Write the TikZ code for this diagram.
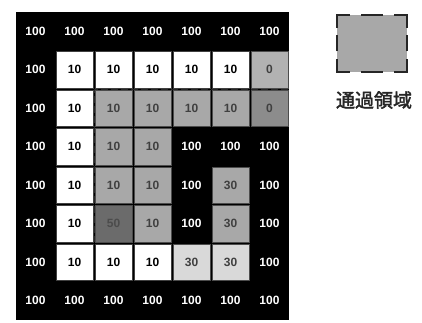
\documentclass[tikz,border=0pt]{standalone}
\usepackage{fontspec}
\setmainfont{Liberation Sans}
\newfontfamily\cjk[AutoFakeBold=2]{Noto Sans CJK JP}
\begin{document}
\begin{tikzpicture}[x=1pt,y=1pt,
  cellbase/.style={minimum width=37pt,minimum height=36.5pt,inner sep=0pt,font=\fontsize{12}{12}\selectfont\bfseries},
  blk/.style={cellbase,text=white},
  wht/.style={cellbase,fill=white,draw=black!75,line width=0.6pt,text=black},
  gry/.style={cellbase,fill=black!34,draw=black!70,line width=0.6pt,text=black!75},
  gryL/.style={cellbase,fill=black!30,draw=black!70,line width=0.6pt,text=black!75},
  gryD/.style={cellbase,fill=black!45,draw=black!70,line width=0.6pt,text=black!75},
  drk/.style={cellbase,fill=black!58,draw=black!70,line width=0.6pt,text=black!70},
  lgt/.style={cellbase,fill=black!15,draw=black!70,line width=0.6pt,text=black!75},
  region/.style={draw=black!85,line width=1.3pt,dash pattern=on 7pt off 3pt},
  legendline/.style={draw=black!85,line width=2.2pt}
]
\useasboundingbox (0,0) rectangle (422,-323);
\fill[black] (16,-12) rectangle (289,-320);
\newcommand\mycell[4]{\node[#3] (c#1#2) at ({16+39*#2+19.5},{-(12+38.5*#1+19.25)}) {#4};}
% row 0
\foreach \c in {0,...,6} {\mycell{0}{\c}{blk}{100}}
% row 1
\mycell{1}{0}{blk}{100}
\foreach \c in {1,...,5} {\mycell{1}{\c}{wht}{10}}
\mycell{1}{6}{gryL}{0}
% row 2
\mycell{2}{0}{blk}{100}
\mycell{2}{1}{wht}{10}
\foreach \c in {2,...,5} {\mycell{2}{\c}{gry}{10}}
\mycell{2}{6}{gryD}{0}
% row 3
\mycell{3}{0}{blk}{100}
\mycell{3}{1}{wht}{10}
\mycell{3}{2}{gry}{10}
\mycell{3}{3}{gry}{10}
\foreach \c in {4,5,6} {\mycell{3}{\c}{blk}{100}}
% row 4
\mycell{4}{0}{blk}{100}
\mycell{4}{1}{wht}{10}
\mycell{4}{2}{gry}{10}
\mycell{4}{3}{gry}{10}
\mycell{4}{4}{blk}{100}
\mycell{4}{5}{gry}{30}
\mycell{4}{6}{blk}{100}
% row 5
\mycell{5}{0}{blk}{100}
\mycell{5}{1}{wht}{10}
\mycell{5}{2}{drk}{50}
\mycell{5}{3}{gry}{10}
\mycell{5}{4}{blk}{100}
\mycell{5}{5}{gry}{30}
\mycell{5}{6}{blk}{100}
% row 6
\mycell{6}{0}{blk}{100}
\foreach \c in {1,2,3} {\mycell{6}{\c}{wht}{10}}
\mycell{6}{4}{lgt}{30}
\mycell{6}{5}{lgt}{30}
\mycell{6}{6}{blk}{100}
% row 7
\foreach \c in {0,...,6} {\mycell{7}{\c}{blk}{100}}
% passage region outline
\coordinate (rA) at (c22.north west);
\coordinate (rB) at (c26.north east);
\coordinate (rC) at (c52.south west);
\draw[region] (rB) -- (rA) -- (rC);
% legend
\node[fill=black!34,minimum width=70pt,minimum height=57pt,inner sep=0pt] (leg) at (372,-43.5) {};
\draw[legendline] ([yshift=-13pt]leg.north west) -- (leg.north west) -- ([xshift=13pt]leg.north west);
\draw[legendline] ([xshift=-13pt]leg.north east) -- (leg.north east) -- ([yshift=-13pt]leg.north east);
\draw[legendline] ([yshift=13pt]leg.south west) -- (leg.south west) -- ([xshift=13pt]leg.south west);
\draw[legendline] ([xshift=-13pt]leg.south east) -- (leg.south east) -- ([yshift=13pt]leg.south east);
\draw[legendline] ([xshift=-11pt]leg.north) -- ([xshift=11pt]leg.north);
\draw[legendline] ([xshift=-11pt]leg.south) -- ([xshift=11pt]leg.south);
\draw[legendline] ([yshift=-8pt]leg.west) -- ([yshift=8pt]leg.west);
\draw[legendline] ([yshift=-8pt]leg.east) -- ([yshift=8pt]leg.east);
\node[font=\cjk\bfseries\fontsize{19}{19}\selectfont,text=black!85] (legtext) at (374,-100) {通過領域};
\end{tikzpicture}
\end{document}
